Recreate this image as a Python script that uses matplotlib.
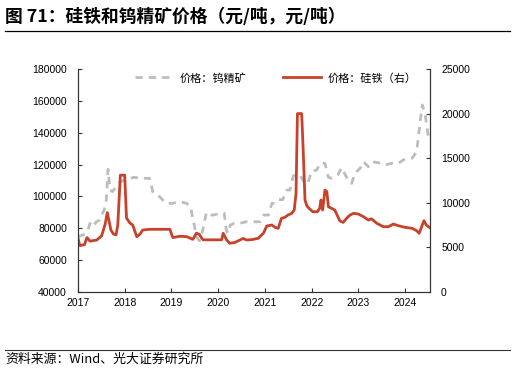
import matplotlib
matplotlib.use("Agg")
import matplotlib.pyplot as plt
import matplotlib.dates as mdates
import numpy as np
import pandas as pd

plt.rcParams["font.family"] = ["Liberation Sans", "Noto Sans CJK SC", "DejaVu Sans"]

# 钨精矿 (left axis, 元/吨)
tungsten_dates = [
    "2017-01-01", "2017-02-08", "2017-03-15", "2017-04-10", "2017-05-05", "2017-05-25",
    "2017-06-20", "2017-07-05", "2017-07-25", "2017-08-10", "2017-08-24", "2017-09-08",
    "2017-09-28", "2017-10-25", "2017-11-08", "2017-12-01", "2018-01-01", "2018-02-15",
    "2018-03-15", "2018-05-08", "2018-07-15", "2018-08-08", "2018-09-05", "2018-10-01",
    "2018-11-20", "2019-01-12", "2019-03-08", "2019-04-28", "2019-06-01", "2019-06-14",
    "2019-07-01", "2019-07-15", "2019-08-08", "2019-08-22", "2019-09-06", "2019-10-01",
    "2019-10-20", "2019-11-28", "2020-01-08", "2020-02-18", "2020-03-03", "2020-03-15",
    "2020-04-05", "2020-05-05", "2020-06-15", "2020-08-10", "2020-10-01", "2020-11-25",
    "2020-12-20", "2021-01-28", "2021-02-25", "2021-03-20", "2021-04-15", "2021-05-20",
    "2021-06-20", "2021-07-15", "2021-08-10", "2021-09-01", "2021-10-01", "2021-11-10",
    "2021-12-01", "2022-01-01", "2022-02-10", "2022-03-08", "2022-04-15", "2022-05-12",
    "2022-06-10", "2022-07-25", "2022-08-22", "2022-10-15", "2022-11-10", "2022-12-05",
    "2023-01-15", "2023-02-10", "2023-03-20", "2023-04-20", "2023-07-01", "2023-07-28",
    "2023-09-20", "2023-11-10", "2023-12-20", "2024-02-25", "2024-04-01", "2024-04-25",
    "2024-05-15", "2024-06-05", "2024-07-01", "2024-07-14",
]
tungsten = [
    74700, 75800, 77900, 84100, 82000, 84100,
    85200, 88300, 91500, 97800, 117000, 104000,
    103000, 106000, 108200, 109200, 110300, 111400,
    112000, 111400, 111400, 103000, 102000, 99800,
    95700, 95700, 96700, 95700, 93600, 87300,
    81000, 74700, 72200, 75000, 80000, 89800,
    88300, 88300, 89400, 89400, 80000, 76900,
    82000, 83100, 83100, 84100, 84100, 84100,
    88300, 88300, 95700, 95700, 98000, 98000,
    104000, 104000, 112800, 113500, 113500, 108000,
    108000, 116000, 116600, 120800, 120800, 112000,
    111400, 113500, 118000, 110000, 108200, 114500,
    117700, 121800, 118700, 121800, 120800, 119700,
    120800, 120800, 123000, 124000, 128100, 145000,
    157400, 152200, 137500, 135000,
]

# 硅铁 (right axis, 元/吨)
ferrosilicon_dates = [
    "2017-01-01", "2017-01-15", "2017-02-20", "2017-03-12", "2017-04-05", "2017-05-28",
    "2017-07-05", "2017-08-01", "2017-08-18", "2017-08-30", "2017-09-15", "2017-10-05",
    "2017-10-25", "2017-11-08", "2017-11-28", "2018-01-01", "2018-01-15", "2018-02-10",
    "2018-03-05", "2018-04-05", "2018-05-01", "2018-05-22", "2018-07-15", "2018-12-20",
    "2019-01-12", "2019-03-08", "2019-05-01", "2019-06-18", "2019-07-15", "2019-08-08",
    "2019-08-25", "2019-09-06", "2020-01-28", "2020-02-10", "2020-03-08", "2020-04-01",
    "2020-05-10", "2020-06-20", "2020-07-15", "2020-08-10", "2020-09-20", "2020-11-10",
    "2020-12-05", "2020-12-20", "2021-01-15", "2021-02-25", "2021-03-20", "2021-04-15",
    "2021-05-10", "2021-06-05", "2021-07-01", "2021-07-30", "2021-08-18", "2021-09-01",
    "2021-09-12", "2021-10-15", "2021-10-27", "2021-11-10", "2021-11-25", "2021-12-20",
    "2022-01-10", "2022-02-15", "2022-03-05", "2022-03-15", "2022-03-28", "2022-04-15",
    "2022-04-30", "2022-05-12", "2022-06-05", "2022-07-01", "2022-07-25", "2022-08-10",
    "2022-09-05", "2022-10-01", "2022-10-28", "2022-11-25", "2023-01-01", "2023-02-10",
    "2023-03-20", "2023-04-15", "2023-05-25", "2023-07-15", "2023-08-25", "2023-10-01",
    "2023-11-10", "2024-01-01", "2024-02-25", "2024-04-01", "2024-04-20", "2024-05-28",
    "2024-06-15", "2024-07-14",
]
ferrosilicon = [
    6000, 5200, 5300, 6100, 5700, 5830,
    6300, 7600, 8900, 8070, 6950, 6500,
    6400, 7500, 13100, 13100, 8300, 7740,
    7500, 6200, 6500, 6950, 7030, 7030,
    6100, 6250, 6200, 5900, 6600, 6450,
    6050, 5850, 5850, 6580, 5830, 5460,
    5550, 5830, 6000, 5830, 5870, 6020,
    6390, 6580, 7400, 7510, 7250, 7140,
    8260, 8370, 8630, 8820, 9190, 11060,
    20000, 20000, 15900, 10310, 9640, 9270,
    9000, 9000, 9380, 10310, 9190, 11430,
    11240, 9560, 9380, 9190, 8440, 7960,
    7800, 8260, 8630, 8820, 8740, 8440,
    8070, 8200, 7700, 7320, 7320, 7620,
    7430, 7250, 7140, 6870, 6580, 8000,
    7500, 7200,
]

left_ticks = [40000, 60000, 80000, 100000, 120000, 140000, 160000, 180000]
right_ticks = [0, 5000, 10000, 15000, 20000, 25000]
years = [2017, 2018, 2019, 2020, 2021, 2022, 2023, 2024]

grey = "#bdbdbd"
red = "#c8412a"

fig = plt.figure(figsize=(5.16, 3.71), dpi=100)
ax = fig.add_axes([78 / 516, 1 - 292 / 371, (430 - 78) / 516, (292 - 69) / 371])
ax2 = ax.twinx()

l1, = ax.plot(pd.to_datetime(tungsten_dates), tungsten, color=grey, lw=2.0,
              linestyle=(0, (2.6, 2.2)), label="价格：钨精矿")
l2, = ax2.plot(pd.to_datetime(ferrosilicon_dates), ferrosilicon, color=red, lw=2.0,
               label="价格：硅铁（右）")

ax.set_xlim(pd.Timestamp("2017-01-01"), pd.Timestamp("2024-07-14"))
ax.set_ylim(40000, 180000)
ax2.set_ylim(0, 25000)
ax.set_yticks(left_ticks)
ax2.set_yticks(right_ticks)
ax.set_xticks([pd.Timestamp(f"{y}-01-01") for y in years])
ax.xaxis.set_major_formatter(mdates.DateFormatter("%Y"))

for a in (ax, ax2):
    a.spines["top"].set_visible(False)
    for s in ("left", "right", "bottom"):
        a.spines[s].set_color("#333333")
        a.spines[s].set_linewidth(0.8)
    a.tick_params(direction="in", length=3, width=0.8, labelsize=7.5, pad=8, colors="#333333",
                  labelcolor="black")
ax.tick_params(axis="x", pad=4)

fig.legend(handles=[l1, l2], loc="center", bbox_to_anchor=(276 / 516, 1 - 78 / 371),
           ncol=2, frameon=False, handlelength=3.4, columnspacing=3.3,
           handletextpad=0.6, prop={"family": ["Noto Sans CJK SC"], "size": 8})

fig.text(5 / 516, 1 - 17 / 371, "图 71：硅铁和钨精矿价格（元/吨，元/吨）", fontsize=12.8,
         fontweight="bold", va="center", ha="left", family=["Noto Sans CJK SC", "DejaVu Sans"])
fig.add_artist(plt.Line2D([5 / 516, 510 / 516], [1 - 31 / 371, 1 - 31 / 371],
                          color="black", lw=0.9))
fig.add_artist(plt.Line2D([5 / 516, 510 / 516], [1 - 350 / 371, 1 - 350 / 371],
                          color="#333333", lw=0.8))
fig.text(5 / 516, 1 - 359 / 371, "资料来源：Wind、光大证券研究所", fontsize=9.3,
         va="center", ha="left", family=["Noto Sans CJK SC", "DejaVu Sans"])

fig.savefig("out.png", dpi=100)
